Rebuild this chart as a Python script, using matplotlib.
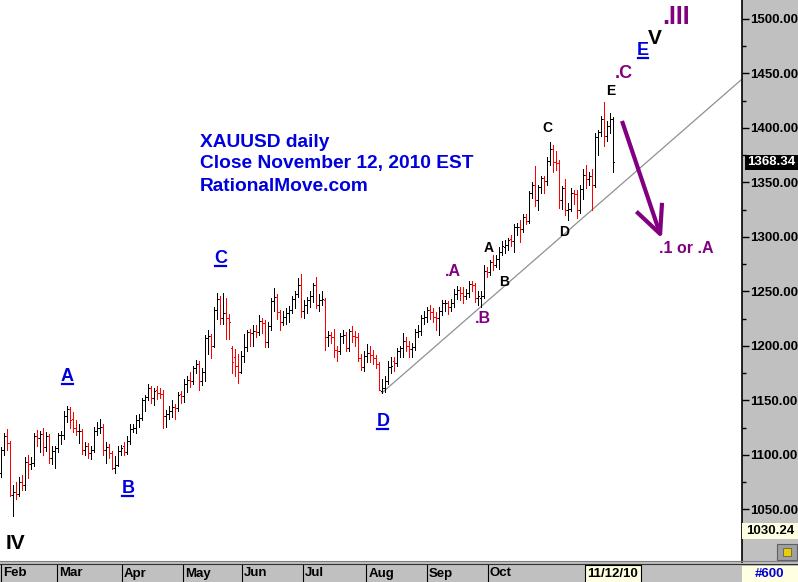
import numpy as np
import pandas as pd
import matplotlib
matplotlib.use('Agg')
import matplotlib.pyplot as plt
from matplotlib.lines import Line2D
from matplotlib.patches import Rectangle
from matplotlib.transforms import IdentityTransform, blended_transform_factory

plt.rcParams['font.family'] = ['Liberation Sans', 'DejaVu Sans']

# ---- DATA (XAUUSD daily, Feb 1 - Nov 12 2010) ----
dates = pd.bdate_range('2010-02-01', '2010-11-12')

bar_open = [
    1083, 1105, 1117, 1111, 1063, 1066, 1064, 1075, 1072, 1094, 1092, 1093, 1117, 1116, 1119, 1107, 1117, 1097, 1104, 1106,
    1118, 1118, 1136, 1142, 1133, 1125, 1122, 1122, 1105, 1108, 1102, 1105, 1122, 1125, 1126, 1105, 1107, 1102, 1088, 1091, 1104, 1108, 1103,
    1113, 1124, 1125, 1132, 1134, 1150, 1153, 1161, 1152, 1160, 1157, 1156, 1136, 1138, 1140, 1144, 1143, 1156, 1154, 1165, 1169, 1168,
    1180, 1183, 1168, 1176, 1207, 1209, 1200, 1233, 1243, 1226, 1230, 1226, 1198, 1190, 1182, 1176, 1191, 1199, 1213, 1212, 1214,
    1213, 1223, 1221, 1204, 1218, 1241, 1245, 1231, 1222, 1227, 1230, 1233, 1243, 1248, 1256, 1232, 1238, 1242, 1246, 1256, 1238, 1242,
    1242, 1208, 1210, 1208, 1196, 1195, 1209, 1210, 1198, 1214, 1209, 1208, 1189, 1181, 1191, 1194, 1192, 1189, 1183, 1159, 1161, 1168,
    1181, 1186, 1184, 1195, 1198, 1205, 1200, 1197, 1199, 1213, 1214, 1226, 1227, 1233, 1231, 1227, 1226, 1232, 1239, 1239, 1236, 1239,
    1248, 1251, 1249, 1246, 1249, 1257, 1256, 1244, 1244, 1246, 1269, 1268, 1277, 1274, 1280, 1286, 1291, 1293, 1298, 1296, 1309, 1309,
    1307, 1318, 1315, 1340, 1348, 1334, 1346, 1354, 1351, 1370, 1381, 1369, 1368, 1334, 1345, 1325, 1326, 1340, 1339, 1325, 1344,
    1357, 1353, 1356, 1348, 1392, 1396, 1408, 1393, 1402, 1408,
]
bar_high = [
    1107, 1120, 1124, 1113, 1072, 1075, 1080, 1082, 1098, 1100, 1098, 1120, 1123, 1122, 1125, 1121, 1119, 1108, 1108, 1120,
    1122, 1140, 1145, 1144, 1139, 1132, 1128, 1124, 1112, 1111, 1108, 1126, 1130, 1133, 1128, 1112, 1110, 1104, 1099, 1108, 1109, 1112, 1117,
    1128, 1128, 1137, 1138, 1152, 1155, 1165, 1163, 1161, 1163, 1161, 1160, 1141, 1145, 1150, 1147, 1158, 1159, 1170, 1172, 1176, 1182,
    1187, 1186, 1180, 1210, 1215, 1211, 1236, 1249, 1246, 1249, 1244, 1229, 1200, 1197, 1193, 1195, 1211, 1215, 1216, 1219, 1219,
    1228, 1226, 1224, 1222, 1244, 1253, 1248, 1233, 1232, 1235, 1237, 1246, 1250, 1262, 1266, 1242, 1245, 1250, 1258, 1263, 1248, 1250,
    1244, 1214, 1213, 1216, 1200, 1212, 1215, 1213, 1216, 1218, 1214, 1212, 1193, 1195, 1202, 1200, 1196, 1192, 1185, 1170, 1172, 1186,
    1190, 1190, 1198, 1200, 1212, 1208, 1205, 1203, 1216, 1219, 1228, 1232, 1236, 1238, 1235, 1231, 1236, 1242, 1242, 1241, 1243, 1252,
    1255, 1254, 1254, 1252, 1260, 1260, 1258, 1250, 1250, 1274, 1272, 1279, 1283, 1283, 1291, 1296, 1297, 1299, 1302, 1312, 1313, 1316,
    1321, 1321, 1342, 1350, 1365, 1348, 1356, 1356, 1373, 1387, 1384, 1379, 1371, 1347, 1353, 1331, 1345, 1343, 1343, 1348, 1362,
    1366, 1360, 1362, 1395, 1398, 1411, 1424, 1406, 1414, 1410,
]
bar_low = [
    1080, 1100, 1105, 1062, 1044, 1060, 1062, 1068, 1068, 1079, 1087, 1090, 1108, 1103, 1100, 1104, 1093, 1092, 1088, 1103,
    1110, 1115, 1130, 1125, 1121, 1118, 1111, 1101, 1100, 1097, 1096, 1103, 1118, 1120, 1100, 1093, 1097, 1087, 1083, 1090, 1100, 1100, 1101,
    1110, 1121, 1120, 1126, 1132, 1140, 1150, 1148, 1146, 1151, 1152, 1125, 1126, 1133, 1135, 1133, 1140, 1148, 1149, 1158, 1162, 1165,
    1175, 1160, 1164, 1168, 1193, 1189, 1199, 1225, 1220, 1220, 1206, 1206, 1175, 1172, 1166, 1175, 1185, 1195, 1200, 1200, 1208,
    1210, 1212, 1199, 1199, 1215, 1232, 1225, 1215, 1219, 1220, 1222, 1230, 1235, 1245, 1227, 1226, 1230, 1236, 1240, 1235, 1232, 1238,
    1196, 1200, 1203, 1190, 1186, 1193, 1203, 1195, 1195, 1204, 1200, 1186, 1178, 1177, 1185, 1185, 1183, 1180, 1160, 1157, 1158, 1165,
    1175, 1177, 1182, 1190, 1190, 1195, 1190, 1190, 1196, 1208, 1210, 1220, 1222, 1225, 1222, 1215, 1210, 1228, 1232, 1229, 1232, 1236,
    1243, 1242, 1239, 1243, 1245, 1250, 1240, 1238, 1236, 1244, 1263, 1265, 1270, 1272, 1271, 1283, 1285, 1288, 1292, 1286, 1302, 1295,
    1305, 1312, 1313, 1336, 1328, 1325, 1340, 1340, 1348, 1366, 1360, 1361, 1327, 1326, 1320, 1316, 1324, 1330, 1317, 1322, 1335,
    1345, 1348, 1325, 1346, 1375, 1393, 1383, 1388, 1395, 1360,
]
bar_close = [
    1105, 1117, 1111, 1063, 1066, 1064, 1075, 1072, 1094, 1092, 1093, 1117, 1116, 1119, 1107, 1117, 1097, 1104, 1106, 1118,
    1118, 1136, 1142, 1132, 1125, 1122, 1122, 1105, 1108, 1102, 1105, 1122, 1125, 1126, 1105, 1107, 1102, 1088, 1091, 1104, 1106, 1103, 1113,
    1124, 1125, 1132, 1134, 1150, 1153, 1161, 1152, 1159, 1157, 1156, 1136, 1138, 1140, 1144, 1143, 1155, 1154, 1165, 1169, 1168, 1180,
    1183, 1168, 1176, 1207, 1209, 1200, 1233, 1243, 1226, 1230, 1226, 1222, 1185, 1182, 1176, 1191, 1199, 1213, 1212, 1214, 1213,
    1223, 1221, 1204, 1218, 1241, 1245, 1231, 1222, 1227, 1230, 1233, 1243, 1248, 1256, 1232, 1238, 1242, 1246, 1256, 1238, 1242, 1243,
    1208, 1210, 1208, 1196, 1195, 1209, 1210, 1198, 1214, 1209, 1208, 1189, 1181, 1191, 1194, 1192, 1189, 1183, 1160, 1161, 1168, 1181,
    1182, 1184, 1195, 1198, 1205, 1200, 1197, 1199, 1213, 1214, 1226, 1227, 1233, 1231, 1227, 1226, 1232, 1239, 1239, 1236, 1239, 1248,
    1251, 1249, 1246, 1249, 1257, 1256, 1244, 1246, 1246, 1269, 1268, 1277, 1274, 1280, 1286, 1292, 1293, 1297, 1296, 1309, 1309, 1307,
    1318, 1315, 1340, 1348, 1334, 1346, 1354, 1351, 1370, 1381, 1369, 1368, 1334, 1345, 1325, 1326, 1340, 1339, 1325, 1344, 1357,
    1353, 1356, 1348, 1392, 1396, 1408, 1393, 1402, 1408, 1368.34,
]

last_price = 1368.34
low_marker = 1030.24
price_ticks = [1050, 1100, 1150, 1200, 1250, 1300, 1350, 1400, 1450, 1500]

# month labels as they sit on the chart's date strip (in bar units)
month_names = ['Feb', 'Mar', 'Apr', 'May', 'Jun', 'Jul', 'Aug', 'Sep', 'Oct']
month_pos = [0.0, 18.7, 40.3, 60.7, 80.3, 100.7, 121.7, 142.0, 162.3]

# wave-count trendline from the July low
trend_x = [127, 250]
trend_y = [1157, 1452]

# ---- PLOT ----
o = np.array(bar_open, float)
h = np.array(bar_high, float)
l = np.array(bar_low, float)
c = np.array(bar_close, float)
x = np.arange(len(c))

W, H = 798, 582
fig = plt.figure(figsize=(W / 100, H / 100), dpi=100, facecolor='#c0c0c0')
ax = fig.add_axes([0, 20 / H, 742 / W, 562 / H])
ax.set_facecolor('white')
ax.set_xlim(-1 / 3, 247)
ax.set_ylim(1001.8, 1517.4)

colors = np.where(c < o, '#ff0000', '#000000')
colors[-1] = '#000000'  # live bar is drawn black
ax.vlines(x, l, h, colors=colors, lw=0.6, antialiased=False, zorder=3)
ax.hlines(o, x - 0.34, x, colors=colors, lw=0.6, antialiased=False, zorder=3)
ax.hlines(c, x, x + 0.34, colors=colors, lw=0.6, antialiased=False, zorder=3)

ax.plot(trend_x, trend_y, color='#909090', lw=0.9, zorder=2)

# right price axis
ax.yaxis.tick_right()
ax.set_yticks(price_ticks)
ax.set_yticklabels([f'{v:.2f}' for v in price_ticks])
ax.set_yticks(np.arange(1025, 1501, 25), minor=True)
ax.tick_params(axis='y', which='major', direction='out', length=5, width=1, pad=1, labelsize=9.5)
ax.tick_params(axis='y', which='minor', direction='out', length=3, width=1)
for t in ax.get_yticklabels():
    t.set_fontweight('bold')
ax.set_xticks([])
for s in ['top', 'left', 'bottom']:
    ax.spines[s].set_visible(False)
ax.spines['right'].set_color('black')
ax.spines['right'].set_linewidth(1.2)
ax.spines['right'].set_linestyle((0, (1, 1)))

# title block
blue = '#0000dd'
purple = '#800080'
ax.text(66.3, 1387, 'XAUUSD daily', color=blue, fontsize=13.8, fontweight='bold', va='center')
ax.text(66.3, 1367, 'Close November 12, 2010 EST', color=blue, fontsize=13.8, fontweight='bold', va='center')
ax.text(66.3, 1346.5, 'RationalMove.com', color=blue, fontsize=13.8, fontweight='bold', va='center')

# wave labels
labels = [
    ('IV', 4.8, 1019, 'black', 15, False),
    ('A', 22.0, 1172, blue, 13, True),
    ('B', 42.3, 1069, blue, 13, True),
    ('C', 73.3, 1280, blue, 13, True),
    ('D', 127.3, 1131, blue, 13, True),
    ('E', 214.0, 1471, blue, 13, True),
    ('V', 218.0, 1482, 'black', 15, False),
    ('.III', 225.0, 1502, purple, 18, False),
    ('.C', 207.7, 1450, purple, 13, False),
    ('E', 203.3, 1434, 'black', 10, False),
    ('C', 182.0, 1400, 'black', 10, False),
    ('D', 187.7, 1304.5, 'black', 10, False),
    ('A', 162.7, 1290, 'black', 10, False),
    ('B', 167.7, 1259, 'black', 10, False),
    ('.A', 150.7, 1268, purple, 11.5, False),
    ('.B', 160.7, 1225, purple, 11.5, False),
    ('.1 or .A', 228.3, 1289, purple, 11.5, False),
]
under = []
for s, lx, ly, col, fs, ul in labels:
    t = ax.text(lx, ly, s, color=col, fontsize=fs, fontweight='bold', ha='center', va='center', zorder=5)
    if ul:
        under.append((t, col))

# projected move arrow
ax.plot([207.0, 219.7], [1406.4, 1302.8], color=purple, lw=3, solid_capstyle='butt', zorder=4)
ax.plot([212.3, 219.7, 220.3], [1322.0, 1302.8, 1329.4], color=purple, lw=3, zorder=4)

# last price box
ytr = blended_transform_factory(fig.transFigure, ax.transData)
ax.add_artist(Rectangle((745 / W, last_price - 7.3), 53 / W, 14.6, transform=ytr,
                        facecolor='black', edgecolor='none', clip_on=False, zorder=6))
fig.text(771 / W, last_price, f'{last_price:.2f}', transform=ytr, color='white',
         fontsize=9.5, fontweight='bold', ha='center', va='center', zorder=7)
ax.add_artist(Rectangle((742 / W, low_marker - 7.3), 56 / W, 14.6, transform=ytr,
                        facecolor='#ffffe1', edgecolor='none', clip_on=False, zorder=6))
fig.text(770 / W, low_marker, f'{low_marker:.2f}', transform=ytr, color='black',
         fontsize=9.5, fontweight='bold', ha='center', va='center', zorder=7)

# little toolbar icon in the axis corner
fig.add_artist(Rectangle((777 / W, (H - 560) / H), 20 / W, 16 / H, facecolor='#a0a0a0',
                         edgecolor='#606060', lw=0.8))
fig.add_artist(Rectangle((783 / W, (H - 556) / H), 8 / W, 8 / H, facecolor='#e8d000',
                         edgecolor='#606060', lw=0.6))

# separator lines above the date strip
pix = IdentityTransform()
fig.add_artist(Line2D([0, W], [H - 561, H - 561], transform=pix, color='#808080', lw=0.8))
fig.add_artist(Line2D([0, W], [H - 564, H - 564], transform=pix, color='#303030', lw=0.8))

# date strip
xtr = blended_transform_factory(ax.transData, fig.transFigure)
for name, pos in zip(month_names, month_pos):
    fig.add_artist(Line2D([pos, pos], [0, 17 / H], transform=xtr, color='black', lw=0.8))
    fig.text(pos + 0.7, 8.5 / H, name, transform=xtr, fontsize=9.5, fontweight='bold',
             ha='left', va='center')
fig.text(x[-1], 8 / H, dates[-1].strftime('%m/%d/%y'), transform=xtr, fontsize=9.5,
         fontweight='bold', ha='center', va='center',
         bbox=dict(boxstyle='square,pad=0.2', facecolor='#ffffe1', edgecolor='black', lw=0.8))
fig.add_artist(Rectangle((742 / W, 0), 56 / W, 16 / H, facecolor='#ffffe1', edgecolor='none'))
fig.text(770 / W, 8 / H, '#600', color=blue, fontsize=9.5, fontweight='bold', ha='center', va='center')

# underline the blue wave letters
fig.canvas.draw()
for t, col in under:
    bb = t.get_window_extent()
    yy = bb.y0 + 1
    fig.add_artist(Line2D([bb.x0 + 1, bb.x1 - 1], [yy, yy], transform=pix, color=col, lw=1.6))

fig.savefig('out.png', dpi=100, facecolor=fig.get_facecolor())
